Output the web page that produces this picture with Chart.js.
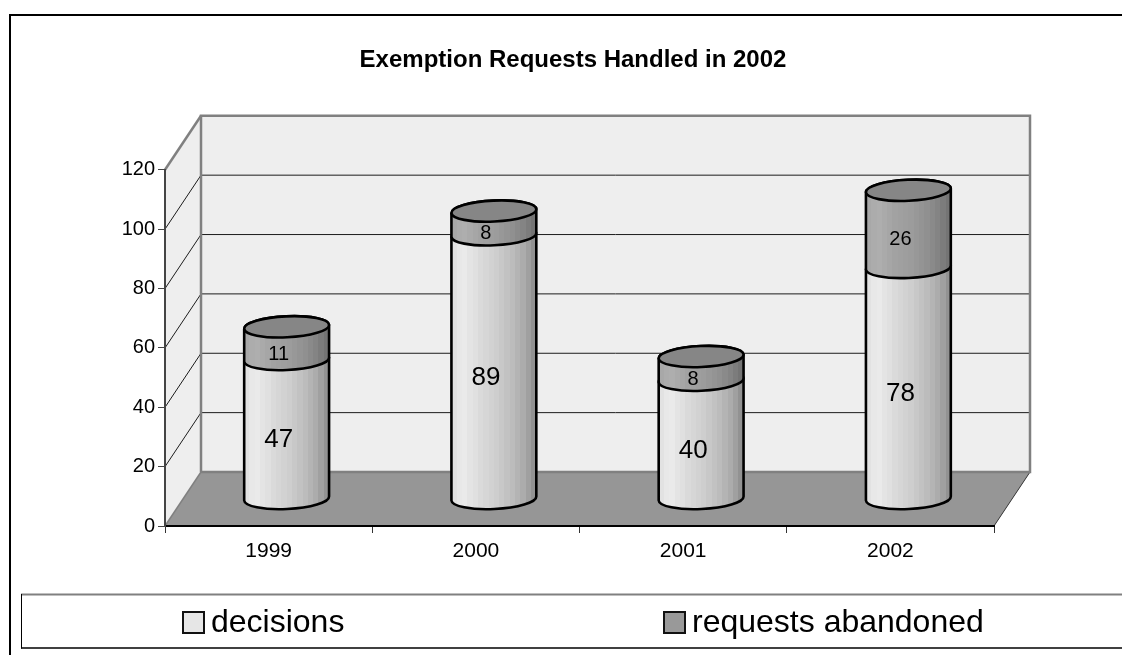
<!DOCTYPE html>
<html>
<head>
<meta charset="utf-8">
<title>Exemption Requests Handled in 2002</title>
<script src="https://cdn.jsdelivr.net/npm/chart.js@4/dist/chart.umd.min.js"></script>
<style>
  html, body { margin: 0; padding: 0; background: #fff; overflow: hidden; }
  canvas { display: block; }
</style>
</head>
<body>
<canvas id="requestsChart" width="1122" height="655"></canvas>
<script>
const years = ['1999', '2000', '2001', '2002'];
const decisions = [47, 89, 40, 78];
const abandoned = [11, 8, 8, 26];
const yTicks = [0, 20, 40, 60, 80, 100, 120];

const FONT = '"Liberation Sans", Arial, sans-serif';
const DEPTH_X = 36;
const DEPTH_Y = -54;
const CAP_RY = 10.5;
const CAP_TILT = -0.047;

// vertical shading bands across a cylinder, left to right, one set per series
const lightBands = [226, 232, 234, 228, 224, 218, 214, 210, 206, 200, 194, 188, 180, 172, 160, 146];
const darkBands = [168, 172, 174, 170, 166, 162, 160, 158, 156, 152, 148, 144, 138, 132, 124, 116];

const bandGradient = (ctx, left, width, shades) => {
  const g = ctx.createLinearGradient(left, 0, left + width, 0);
  shades.forEach((s, i) => {
    const c = `rgb(${s},${s},${s})`;
    g.addColorStop(i / shades.length, c);
    g.addColorStop((i + 1) / shades.length, c);
  });
  return g;
};

const line = (ctx, x1, y1, x2, y2, color, width) => {
  ctx.strokeStyle = color;
  ctx.lineWidth = width;
  ctx.beginPath();
  ctx.moveTo(x1, y1);
  ctx.lineTo(x2, y2);
  ctx.stroke();
};

// walls, floor and gridlines behind the bars
const roomPlugin = {
  id: 'room',
  afterLayout(chart) {
    // the title centres on the plot's back wall rather than the whole canvas
    chart.titleBlock.left += 47;
  },
  beforeDraw(chart) {
    const { ctx, chartArea: a, scales: { y } } = chart;
    const zero = y.getPixelForValue(0);
    const top = y.getPixelForValue(120);

    ctx.save();
    ctx.fillStyle = '#eeeeee';
    ctx.fillRect(a.left + DEPTH_X, top + DEPTH_Y, a.right - a.left, zero - top);
    ctx.beginPath();
    ctx.moveTo(a.left, zero);
    ctx.lineTo(a.left, top);
    ctx.lineTo(a.left + DEPTH_X, top + DEPTH_Y);
    ctx.lineTo(a.left + DEPTH_X, zero + DEPTH_Y);
    ctx.closePath();
    ctx.fill();

    yTicks.filter((v) => v > 0).forEach((v) => {
      const py = y.getPixelForValue(v);
      if (v < 120) line(ctx, a.left + DEPTH_X, py + DEPTH_Y, a.right + DEPTH_X, py + DEPTH_Y, '#1c1c1c', 1);
      line(ctx, a.left, py, a.left + DEPTH_X, py + DEPTH_Y, v === 120 ? '#808080' : '#1c1c1c', v === 120 ? 2.5 : 1);
    });

    ctx.fillStyle = '#969696';
    ctx.beginPath();
    ctx.moveTo(a.left, zero);
    ctx.lineTo(a.left + DEPTH_X, zero + DEPTH_Y);
    ctx.lineTo(a.right + DEPTH_X, zero + DEPTH_Y);
    ctx.lineTo(a.right, zero);
    ctx.closePath();
    ctx.fill();

    line(ctx, a.left, zero, a.left + DEPTH_X, zero + DEPTH_Y, '#808080', 1.5);
    line(ctx, a.right, zero, a.right + DEPTH_X, zero + DEPTH_Y, '#333333', 1);

    ctx.strokeStyle = '#808080';
    ctx.lineWidth = 2.5;
    ctx.beginPath();
    ctx.moveTo(a.left + DEPTH_X, zero + DEPTH_Y);
    ctx.lineTo(a.left + DEPTH_X, top + DEPTH_Y);
    ctx.lineTo(a.right + DEPTH_X, top + DEPTH_Y);
    ctx.lineTo(a.right + DEPTH_X, zero + DEPTH_Y);
    ctx.lineTo(a.left + DEPTH_X, zero + DEPTH_Y);
    ctx.stroke();
    ctx.restore();
  }
};

// cylinders built on the stacked bar elements, pushed to mid depth
const cylinderPlugin = {
  id: 'cylinders',
  afterDatasetsDraw(chart) {
    const { ctx } = chart;
    const metas = chart.data.datasets.map((d, i) => chart.getDatasetMeta(i));
    const bands = [lightBands, darkBands];

    ctx.save();
    ctx.strokeStyle = '#000';
    ctx.lineWidth = 2.6;
    years.forEach((year, i) => {
      metas.forEach((meta, s) => {
        const bar = meta.data[i];
        const cx = bar.x + DEPTH_X / 2;
        const rx = bar.width / 2;
        const yBase = bar.base + DEPTH_Y / 2;
        const yTop = bar.y + DEPTH_Y / 2;

        ctx.beginPath();
        ctx.ellipse(cx, yBase, rx, CAP_RY, CAP_TILT, 0, Math.PI);
        ctx.ellipse(cx, yTop, rx, CAP_RY, CAP_TILT, Math.PI, Math.PI * 2);
        ctx.closePath();
        ctx.fillStyle = bandGradient(ctx, cx - rx, rx * 2, bands[s]);
        ctx.fill();
        ctx.stroke();

        if (s === metas.length - 1) {
          ctx.beginPath();
          ctx.ellipse(cx, yTop, rx, CAP_RY, CAP_TILT, 0, Math.PI * 2);
          ctx.fillStyle = '#868686';
          ctx.fill();
          ctx.stroke();
        }
      });

      // value labels sit a little left of and below the segment centre
      metas.forEach((meta, s) => {
        const bar = meta.data[i];
        const value = chart.data.datasets[s].data[i];
        ctx.font = `${s === 0 ? 26 : 20}px ${FONT}`;
        ctx.fillStyle = '#000';
        ctx.textAlign = 'center';
        ctx.textBaseline = 'middle';
        ctx.fillText(String(value), bar.x + DEPTH_X / 2 - 8, (bar.y + bar.base) / 2 + DEPTH_Y / 2 + 11);
      });
    });
    ctx.restore();
  }
};

// outer frame plus the legend strip along the bottom
const framePlugin = {
  id: 'frame',
  afterDraw(chart) {
    const { ctx, width, height } = chart;
    ctx.save();
    line(ctx, 10, 15, width, 15, '#000', 2);
    line(ctx, 10, 14, 10, height, '#000', 2);
    line(ctx, 21, 594.5, width, 594.5, '#808080', 2);
    line(ctx, 21.5, 594, 21.5, 648.5, '#000', 1);
    line(ctx, 21, 648, width, 648, '#000', 1.5);

    const slots = [
      { box: 183, text: 211, fill: '#e6e6e6' },
      { box: 664, text: 692, fill: '#999999' }
    ];
    chart.data.datasets.forEach((d, i) => {
      ctx.fillStyle = slots[i].fill;
      ctx.fillRect(slots[i].box, 612, 21, 21);
      ctx.strokeStyle = '#111';
      ctx.lineWidth = 2;
      ctx.strokeRect(slots[i].box, 612, 21, 21);
      ctx.fillStyle = '#000';
      ctx.font = `32px ${FONT}`;
      ctx.textAlign = 'left';
      ctx.textBaseline = 'alphabetic';
      ctx.fillText(d.label, slots[i].text, 632);
    });
    ctx.restore();
  }
};

new Chart(document.getElementById('requestsChart'), {
  type: 'bar',
  data: {
    labels: years,
    datasets: [
      { label: 'decisions', data: decisions, backgroundColor: 'transparent' },
      { label: 'requests abandoned', data: abandoned, backgroundColor: 'transparent' }
    ]
  },
  plugins: [roomPlugin, cylinderPlugin, framePlugin],
  options: {
    responsive: false,
    animation: false,
    barPercentage: 0.41,
    categoryPercentage: 1,
    layout: { padding: { left: 105, right: 128, top: 0, bottom: 89 } },
    plugins: {
      legend: { display: false },
      tooltip: { enabled: false },
      title: {
        display: true,
        text: 'Exemption Requests Handled in 2002',
        color: '#000',
        font: { family: FONT, size: 24, weight: 'bold', lineHeight: 1.2 },
        padding: { top: 46, bottom: 95 }
      }
    },
    scales: {
      x: {
        stacked: true,
        afterFit: (scale) => { scale.height = 40; },
        border: { color: '#000', width: 2 },
        grid: { drawOnChartArea: false, tickColor: '#333', tickLength: 7 },
        ticks: { color: '#000', font: { family: FONT, size: 21 }, padding: 6, maxRotation: 0 }
      },
      y: {
        stacked: true,
        min: 0,
        max: 120,
        afterFit: (scale) => { scale.width = 60; },
        afterBuildTicks: (scale) => { scale.ticks = yTicks.map((value) => ({ value })); },
        border: { color: '#444', width: 2 },
        grid: { drawOnChartArea: false, tickColor: '#444', tickLength: 7 },
        ticks: { color: '#000', font: { family: FONT, size: 20 }, padding: 3 }
      }
    }
  }
});
</script>
</body>
</html>
